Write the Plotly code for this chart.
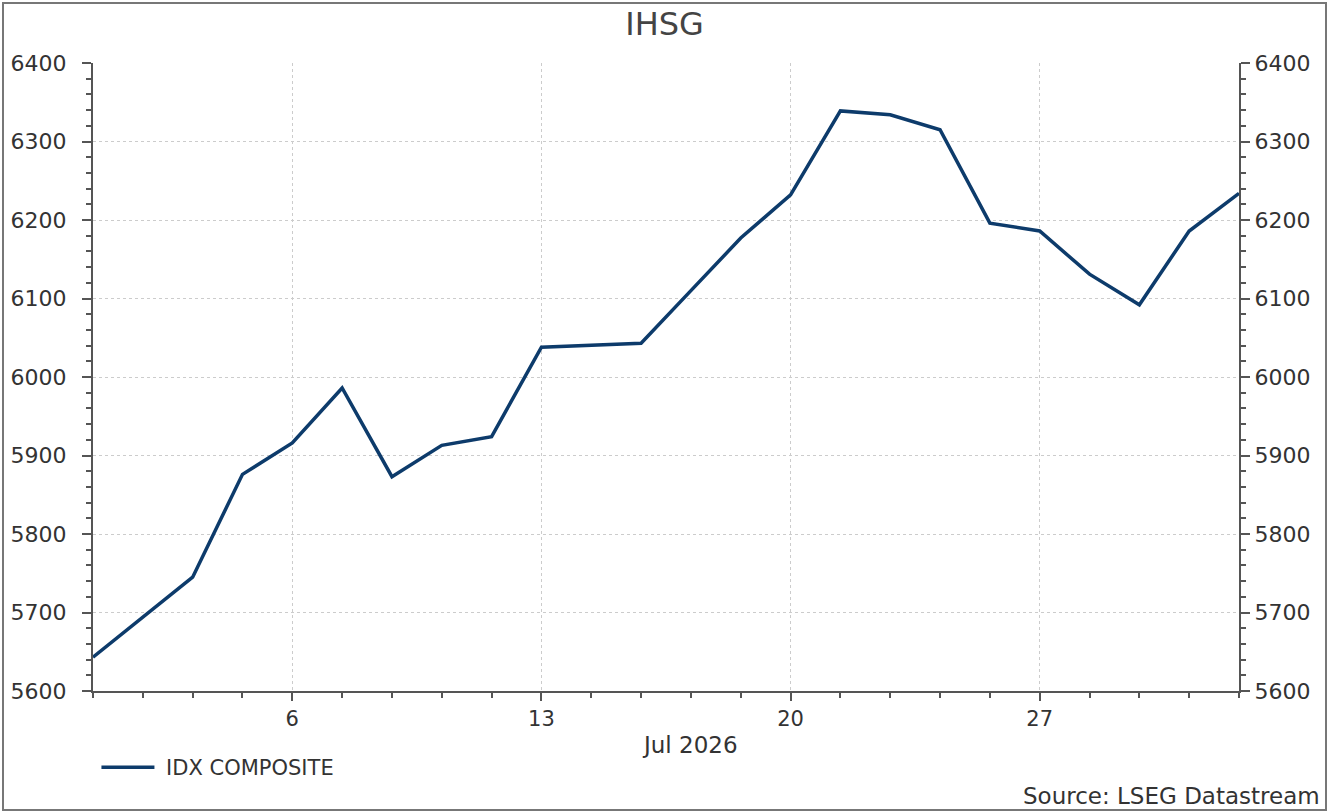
import plotly.graph_objects as go

dates = ["2026-06-30", "2026-07-01", "2026-07-02", "2026-07-03",
         "2026-07-06", "2026-07-07", "2026-07-08", "2026-07-09", "2026-07-10",
         "2026-07-13", "2026-07-14", "2026-07-15", "2026-07-16", "2026-07-17",
         "2026-07-20", "2026-07-21", "2026-07-22", "2026-07-23", "2026-07-24",
         "2026-07-27", "2026-07-28", "2026-07-29", "2026-07-30", "2026-07-31"]
idx_composite = [5643, 5694, 5745, 5876,
                 5916, 5986, 5873, 5913, 5924,
                 6038, 6040, 6043, 6110, 6177,
                 6232, 6339, 6334, 6315, 6196,
                 6186, 6131, 6092, 6186, 6234]
x_tick_vals = ["2026-07-06", "2026-07-13", "2026-07-20", "2026-07-27"]
x_tick_text = ["6", "13", "20", "27"]
y_ticks = [5600, 5700, 5800, 5900, 6000, 6100, 6200, 6300, 6400]

FONT = "DejaVu Sans, Liberation Sans, Arial, sans-serif"
LINE = "#0d3b6b"
AX = "#555555"
TXT = "#333333"

fig = go.Figure()
fig.add_trace(go.Scatter(x=dates, y=idx_composite, mode="lines",
                         name="\u00a0IDX COMPOSITE",
                         line=dict(color=LINE, width=3.5)))
fig.add_trace(go.Scatter(x=dates, y=idx_composite, mode="lines", yaxis="y2",
                         showlegend=False, hoverinfo="skip",
                         line=dict(color="rgba(0,0,0,0)", width=0)))

yax = dict(range=[5600, 6400], tickvals=y_ticks, ticks="outside", ticklen=9,
           tickwidth=2, tickcolor=AX, showline=True, linecolor=AX, linewidth=2,
           tickfont=dict(family=FONT, size=22, color=TXT),
           minor=dict(dtick=20, tick0=5600, ticks="outside", ticklen=5,
                      tickwidth=2, tickcolor=AX, showgrid=False),
           zeroline=False)

fig.update_layout(
    width=1329, height=812,
    margin=dict(l=93, r=90, t=63, b=121),
    paper_bgcolor="white", plot_bgcolor="white",
    title=dict(text="IHSG", x=0.5, xanchor="center", y=1 - 24 / 812,
               yanchor="middle", font=dict(family=FONT, size=32, color="#444444")),
    xaxis=dict(type="date", range=["2026-06-30", "2026-07-31"],
               rangebreaks=[dict(bounds=["sat", "mon"])],
               tickvals=x_tick_vals, ticktext=x_tick_text,
               ticks="outside", ticklen=8, tickwidth=2, tickcolor=AX,
               showline=True, linecolor=AX, linewidth=2, mirror=False,
               showgrid=True, gridcolor="#cccccc", griddash="dot", gridwidth=1,
               tickfont=dict(family=FONT, size=21, color=TXT),
               minor=dict(dtick=86400000, tick0="2026-06-30", ticks="outside",
                          ticklen=5, tickwidth=2, tickcolor=AX, showgrid=False),
               zeroline=False),
    yaxis=dict(**yax, side="left", showgrid=True, gridcolor="#cccccc",
               griddash="dot", gridwidth=1, ticklabelstandoff=11),
    yaxis2=dict(**yax, side="right", overlaying="y", showgrid=False),
    showlegend=True,
    legend=dict(x=0.003, y=-0.122, xanchor="left", yanchor="middle",
                itemwidth=53,
                font=dict(family=FONT, size=21, color=TXT),
                bgcolor="rgba(0,0,0,0)"),
    annotations=[
        dict(text="Jul 2026", xref="paper", yref="paper", x=0.521, y=-0.086,
             xanchor="center", yanchor="middle", showarrow=False,
             font=dict(family=FONT, size=23, color=TXT)),
        dict(text="Source: LSEG Datastream", xref="paper", yref="paper",
             x=(1322 - 93) / 1146, y=(691 - 796) / 628, xanchor="right",
             yanchor="middle", showarrow=False,
             font=dict(family=FONT, size=23, color=TXT)),
    ],
    shapes=[dict(type="rect", xref="paper", yref="paper",
                 x0=(3 - 93) / 1146, x1=(1326 - 93) / 1146,
                 y0=(691 - 810) / 628, y1=(691 - 3) / 628,
                 line=dict(color="#777777", width=2), layer="below")],
)

fig.write_html("out.html", config={"displayModeBar": False},
               post_script="document.body.style.margin='0';"
                           "document.body.style.padding='0';"
                           "document.documentElement.style.overflow='hidden';")
